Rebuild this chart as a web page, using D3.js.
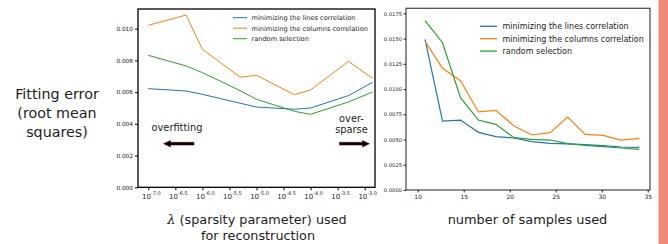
<!DOCTYPE html>
<html><head><meta charset="utf-8">
<script src="https://cdn.jsdelivr.net/npm/d3@7"></script>
<style>
html,body{margin:0;padding:0;background:#fff;}
text{font-family:"DejaVu Sans",sans-serif;fill:#222;}
</style></head>
<body><svg id="c" width="668" height="244"></svg>
<script>
// ---- Data: left panel (error vs lambda) ----
const lambdas = [1e-7, 5e-7, 1e-6, 5e-6, 1e-5, 5e-5, 1e-4, 5e-4, 1.4e-3];
const leftLines   = [0.00622, 0.00607, 0.00586, 0.00530, 0.00506, 0.00492, 0.00500, 0.00578, 0.00662];
const leftColumns = [0.01021, 0.01086, 0.00870, 0.00694, 0.00706, 0.00584, 0.00614, 0.00794, 0.00687];
const leftRandom  = [0.00832, 0.00765, 0.00723, 0.00609, 0.00555, 0.00479, 0.00460, 0.00538, 0.00601];
const leftYTicks = [0, 0.002, 0.004, 0.006, 0.008, 0.010];
const leftXTickExps = [-7.0, -6.5, -6.0, -5.5, -5.0, -4.5, -4.0, -3.5, -3.0];

// ---- Data: right panel (error vs number of samples) ----
const samples = [10.8, 12.7, 14.65, 16.6, 18.5, 20.45, 22.4, 24.4, 26.3, 28.2, 30.15, 32.1, 34.1];
const rightLines   = [0.01493, 0.00683, 0.00693, 0.00571, 0.00528, 0.00515, 0.00479, 0.00462, 0.00456, 0.00449, 0.00439, 0.00426, 0.00423];
const rightColumns = [0.01473, 0.01205, 0.01083, 0.00773, 0.00789, 0.00637, 0.00545, 0.00568, 0.00723, 0.00551, 0.00541, 0.00495, 0.00512];
const rightRandom  = [0.01677, 0.01459, 0.00914, 0.00693, 0.00650, 0.00518, 0.00502, 0.00495, 0.00459, 0.00443, 0.00429, 0.00416, 0.00403];
const rightYTicks = [0, 0.0025, 0.005, 0.0075, 0.01, 0.0125, 0.015, 0.0175];
const rightXTicks = [10, 15, 20, 25, 30, 35];

const seriesNames = ["minimizing the lines correlation", "minimizing the columns correlation", "random selection"];
const colors = ["#1f77b4", "#ff7f0e", "#2ca02c"];

const svg = d3.select("#c");

// ---------- Left panel ----------
const L = {x0:138, x1:375, y0:9, y1:187.3};
const xL = d3.scaleLog().domain([Math.pow(10,-7.19), Math.pow(10,-2.81)]).range([L.x0, L.x1]);
const yL = d3.scaleLinear().domain([0, 0.01124]).range([L.y1, L.y0]);

const gL = svg.append("g");
[leftLines, leftColumns, leftRandom].forEach((vals,i)=>{
  gL.append("path").datum(vals.map((v,j)=>[lambdas[j], v]))
    .attr("fill","none").attr("stroke",colors[i]).attr("stroke-width",1)
    .attr("d", d3.line().x(d=>xL(d[0])).y(d=>yL(d[1])));
});
gL.append("rect").attr("x",L.x0).attr("y",L.y0).attr("width",L.x1-L.x0).attr("height",L.y1-L.y0)
  .attr("fill","none").attr("stroke","#000").attr("stroke-width",1.3);

// y axis left
const ayL = gL.append("g").attr("transform",`translate(${L.x0},0)`)
  .call(d3.axisLeft(yL).tickValues(leftYTicks).tickFormat(d3.format(".3f")).tickSize(3).tickPadding(2));
ayL.select(".domain").remove();
ayL.selectAll("text").style("font-size","5.8px").attr("fill","#222");
ayL.selectAll("line").attr("stroke","#000");

// x axis left (exponent labels)
const axL = gL.append("g").attr("transform",`translate(0,${L.y1})`)
  .call(d3.axisBottom(xL).tickValues(leftXTickExps.map(e=>Math.pow(10,e))).tickFormat("").tickSize(3));
axL.select(".domain").remove();
axL.selectAll("line").attr("stroke","#000");
leftXTickExps.forEach(e=>{
  const t = gL.append("text").attr("x", xL(Math.pow(10,e))+3).attr("y", 199).attr("text-anchor","middle");
  t.append("tspan").style("font-size","7px").text("10");
  t.append("tspan").style("font-size","5px").attr("dy",-4.5).text(e.toFixed(1));
});

// legend left
seriesNames.forEach((n,i)=>{
  const yy = 17.7 + i*10.5;
  gL.append("line").attr("x1",233).attr("x2",247).attr("y1",yy).attr("y2",yy).attr("stroke",colors[i]).attr("stroke-width",1);
  gL.append("text").attr("x",251.5).attr("y",yy+2.3).style("font-size","6.6px").text(n);
});

// annotations
gL.append("text").attr("x",177).attr("y",130.5).attr("text-anchor","middle").style("font-size","9.8px").text("overfitting");
gL.append("text").attr("x",351.5).attr("y",121.5).attr("text-anchor","middle").style("font-size","9.8px").text("over-");
gL.append("text").attr("x",351.5).attr("y",132.5).attr("text-anchor","middle").style("font-size","9.8px").text("sparse");
function arrow(xTail, xHead, y){
  const dir = Math.sign(xHead-xTail);
  const hl = 7, hw = 3.2, sw = 1.4;
  const pts = [[xTail, y-sw],[xHead-dir*hl, y-sw],[xHead-dir*hl, y-hw],[xHead, y],[xHead-dir*hl, y+hw],[xHead-dir*hl, y+sw],[xTail, y+sw]];
  gL.append("path").attr("d","M"+pts.map(p=>p.join(",")).join("L")+"Z").attr("fill","#110000").attr("stroke","#3a0a0a").attr("stroke-width",0.5);
}
arrow(194, 163.5, 143.7);
arrow(339.5, 369.5, 143.7);

// axis titles left
const tl = svg.append("text").attr("x",257).attr("y",224).attr("text-anchor","middle").style("font-size","12.8px");
tl.append("tspan").style("font-family","'DejaVu Serif',serif").style("font-style","italic").text("λ");
tl.append("tspan").text(" (sparsity parameter) used");
svg.append("text").attr("x",258).attr("y",240).attr("text-anchor","middle").style("font-size","12.8px").text("for reconstruction");

["Fitting error","(root mean","squares)"].forEach((s,i)=>{
  svg.append("text").attr("x",57).attr("y",99+i*19.2).attr("text-anchor","middle").style("font-size","14.3px").text(s);
});

// ---------- Right panel ----------
const R = {x0:406, x1:650, y0:8.3, y1:190};
const xR = d3.scaleLinear().domain([8.73, 35.25]).range([R.x0, R.x1]);
const yR = d3.scaleLinear().domain([0, 0.018]).range([R.y1, R.y0]);
const gR = svg.append("g");
[rightLines, rightColumns, rightRandom].forEach((vals,i)=>{
  gR.append("path").datum(vals.map((v,j)=>[samples[j], v]))
    .attr("fill","none").attr("stroke",colors[i]).attr("stroke-width",1.2)
    .attr("d", d3.line().x(d=>xR(d[0])).y(d=>yR(d[1])));
});
gR.append("rect").attr("x",R.x0).attr("y",R.y0).attr("width",R.x1-R.x0).attr("height",R.y1-R.y0)
  .attr("fill","none").attr("stroke","#444").attr("stroke-width",1.2);
const ayR = gR.append("g").attr("transform",`translate(${R.x0},0)`)
  .call(d3.axisLeft(yR).tickValues(rightYTicks).tickFormat(d3.format(".4f")).tickSize(2.5).tickPadding(1.5));
ayR.select(".domain").remove();
ayR.selectAll("text").style("font-size","5.2px").attr("fill","#222");
ayR.selectAll("line").attr("stroke","#222");
const axR = gR.append("g").attr("transform",`translate(0,${R.y1})`)
  .call(d3.axisBottom(xR).tickValues(rightXTicks).tickSize(2.5).tickPadding(2.5));
axR.select(".domain").remove();
axR.selectAll("text").style("font-size","6px").attr("fill","#222");
axR.selectAll("line").attr("stroke","#222");

seriesNames.forEach((n,i)=>{
  const yy = 26.3 + i*12.4;
  gR.append("line").attr("x1",480).attr("x2",497).attr("y1",yy).attr("y2",yy).attr("stroke",colors[i]).attr("stroke-width",1.3);
  gR.append("text").attr("x",502.5).attr("y",yy+2.8).style("font-size","8px").text(n);
});
svg.append("text").attr("x",527.5).attr("y",224).attr("text-anchor","middle").style("font-size","12.9px").text("number of samples used");

// side strip
svg.append("rect").attr("x",658.5).attr("y",0).attr("width",9.5).attr("height",244).attr("fill","#ef8877");
</script></body></html>
